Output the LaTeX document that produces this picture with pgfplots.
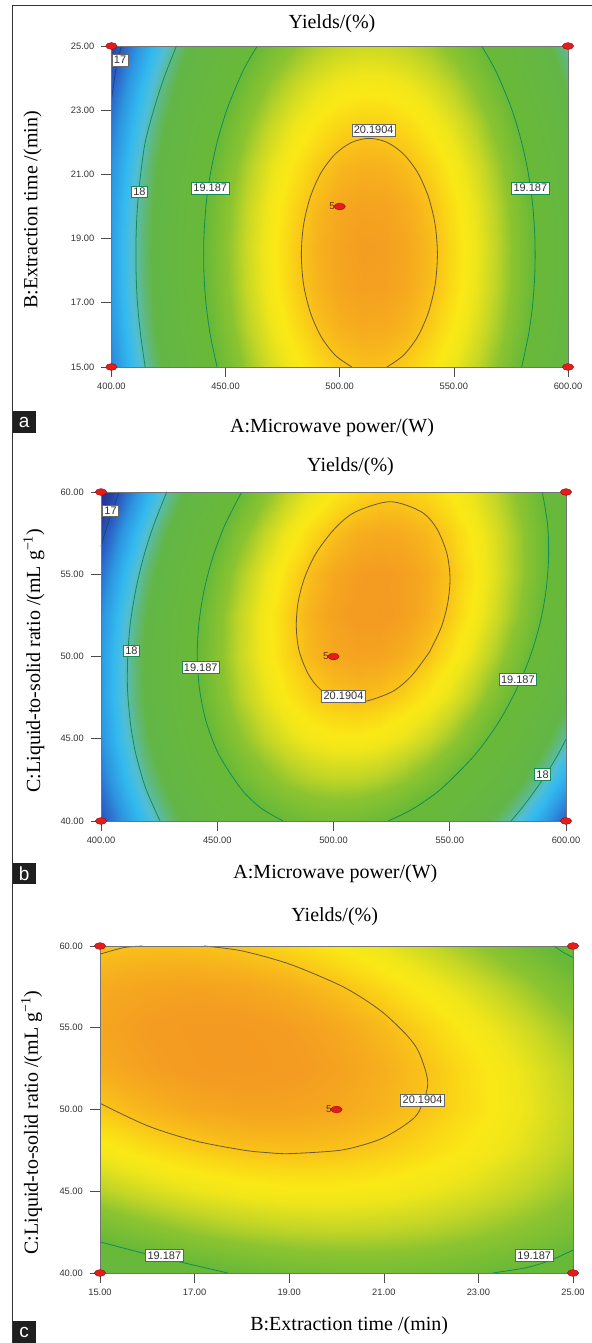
\documentclass[border=0pt]{standalone}
\usepackage{fontspec}
\setmainfont{Liberation Serif}
\newfontfamily\lsans{Liberation Sans}
\usepackage{pgfplots}
\pgfplotsset{compat=1.18}

\definecolor{clg}{RGB}{20,140,85}
\definecolor{clk}{RGB}{105,88,55}
\definecolor{clb}{RGB}{25,70,120}
\definecolor{dotred}{RGB}{228,28,28}
\definecolor{dotedge}{RGB}{150,10,10}
\definecolor{fivecol}{RGB}{110,40,20}

\pgfplotsset{
 colormap={yields}{
  rgb255(0pt)=(30,45,130)
  rgb255(30pt)=(38,62,160)
  rgb255(60pt)=(42,100,200)
  rgb255(90pt)=(45,150,225)
  rgb255(120pt)=(50,185,240)
  rgb255(140pt)=(80,190,215)
  rgb255(160pt)=(95,185,130)
  rgb255(180pt)=(98,182,70)
  rgb255(270pt)=(105,185,56)
  rgb255(300pt)=(140,196,48)
  rgb255(320pt)=(195,214,38)
  rgb255(340pt)=(240,230,26)
  rgb255(350pt)=(250,232,22)
  rgb255(360pt)=(250,215,22)
  rgb255(370pt)=(249,192,26)
  rgb255(380pt)=(246,172,30)
  rgb255(390pt)=(244,156,33)
  rgb255(400pt)=(242,148,35)
 },
 rsm/.style={
  scale only axis, anchor=south west, clip=false, axis on top,
  colormap name=yields, point meta min=16.5, point meta max=20.5,
  tick align=outside, major tick length=10bp,
  xtick pos=left, ytick pos=left,
  tick style={draw=black!70, line width=0.6bp},
  axis line style={draw=black!55, line width=0.5bp},
  ticklabel style={font=\lsans\fontsize{9.3bp}{10bp}\selectfont, text=black!80},
  /pgf/number format/fixed, /pgf/number format/fixed zerofill,
  /pgf/number format/precision=2, /pgf/number format/assume math mode=true,
  yticklabel style={anchor=east, inner sep=0pt, xshift=-7bp},
  xticklabel style={anchor=north, inner sep=0pt, yshift=-5.7bp},
 },
 cl/.style={draw=clg, line width=0.8bp, smooth, no markers},
 ck/.style={draw=clk, line width=0.8bp, smooth, no markers},
 cb/.style={draw=clb, line width=0.8bp, smooth, no markers},
 dots/.style={only marks, mark=*, mark size=3.4bp,
   mark options={xscale=1.65, fill=dotred, draw=dotedge, line width=0.4bp}},
}
\tikzset{
 lbl/.style={draw=#1, fill=white, font=\lsans\fontsize{11bp}{12bp}\selectfont,
   text=black!80, inner xsep=2bp, inner ysep=2bp, line width=0.6bp},
 ttl/.style={font=\fontsize{20bp}{24bp}\selectfont, anchor=base, inner sep=0pt},
 ylab/.style={font=\fontsize{20bp}{24bp}\selectfont, anchor=center, inner sep=0pt, rotate=90},
 five/.style={font=\lsans\fontsize{10bp}{11bp}\selectfont, text=fivecol, anchor=east, inner sep=0pt, xshift=-4.5bp},
 tag/.style={text=white, font=\lsans\fontsize{19bp}{20bp}\selectfont, inner sep=0pt, anchor=center},
}

\begin{document}
\begin{tikzpicture}
\path[use as bounding box] (0bp,0bp) rectangle (592bp,1343bp);
\draw[black!80, line width=1bp] (12.7bp,0bp) -- (12.7bp,1337bp) -- (592bp,1337bp);

% ---------------- panel a ----------------
\begin{axis}[rsm, at={(111.4bp,976bp)}, width=456.6bp, height=321bp,
  xmin=400, xmax=600, ymin=15, ymax=25,
  xtick={400,450,500,550,600}, ytick={15,17,19,21,23,25}]
\addplot[surf, shader=interp, mesh/cols=21, point meta=explicit]
 table[x=x, y=y, meta=z, row sep=\\] {x y z\\
400 15 17.283\\ 410 15 17.777\\ 420 15 18.225\\ 430 15 18.628\\ 440 15 18.985\\ 450 15 19.296\\ 460 15 19.561\\ 470 15 19.781\\ 480 15 19.954\\ 490 15 20.083\\ 500 15 20.165\\ 510 15 20.202\\ 520 15 20.193\\ 530 15 20.138\\ 540 15 20.037\\ 550 15 19.891\\ 560 15 19.699\\ 570 15 19.461\\ 580 15 19.177\\ 590 15 18.848\\ 600 15 18.473\\
400 16.25 17.394\\ 410 16.25 17.888\\ 420 16.25 18.336\\ 430 16.25 18.739\\ 440 16.25 19.096\\ 450 16.25 19.407\\ 460 16.25 19.672\\ 470 16.25 19.892\\ 480 16.25 20.065\\ 490 16.25 20.194\\ 500 16.25 20.276\\ 510 16.25 20.313\\ 520 16.25 20.304\\ 530 16.25 20.249\\ 540 16.25 20.148\\ 550 16.25 20.002\\ 560 16.25 19.810\\ 570 16.25 19.572\\ 580 16.25 19.288\\ 590 16.25 18.959\\ 600 16.25 18.584\\
400 17.5 17.457\\ 410 17.5 17.951\\ 420 17.5 18.399\\ 430 17.5 18.802\\ 440 17.5 19.159\\ 450 17.5 19.470\\ 460 17.5 19.735\\ 470 17.5 19.955\\ 480 17.5 20.128\\ 490 17.5 20.257\\ 500 17.5 20.339\\ 510 17.5 20.376\\ 520 17.5 20.367\\ 530 17.5 20.312\\ 540 17.5 20.211\\ 550 17.5 20.065\\ 560 17.5 19.873\\ 570 17.5 19.635\\ 580 17.5 19.351\\ 590 17.5 19.022\\ 600 17.5 18.647\\
400 18.75 17.472\\ 410 18.75 17.966\\ 420 18.75 18.414\\ 430 18.75 18.817\\ 440 18.75 19.174\\ 450 18.75 19.485\\ 460 18.75 19.750\\ 470 18.75 19.970\\ 480 18.75 20.143\\ 490 18.75 20.272\\ 500 18.75 20.354\\ 510 18.75 20.391\\ 520 18.75 20.382\\ 530 18.75 20.327\\ 540 18.75 20.226\\ 550 18.75 20.080\\ 560 18.75 19.888\\ 570 18.75 19.650\\ 580 18.75 19.366\\ 590 18.75 19.037\\ 600 18.75 18.662\\
400 20 17.438\\ 410 20 17.932\\ 420 20 18.380\\ 430 20 18.783\\ 440 20 19.140\\ 450 20 19.451\\ 460 20 19.716\\ 470 20 19.936\\ 480 20 20.109\\ 490 20 20.238\\ 500 20 20.320\\ 510 20 20.357\\ 520 20 20.348\\ 530 20 20.293\\ 540 20 20.192\\ 550 20 20.046\\ 560 20 19.854\\ 570 20 19.616\\ 580 20 19.332\\ 590 20 19.003\\ 600 20 18.628\\
400 21.25 17.356\\ 410 21.25 17.850\\ 420 21.25 18.298\\ 430 21.25 18.701\\ 440 21.25 19.058\\ 450 21.25 19.369\\ 460 21.25 19.634\\ 470 21.25 19.854\\ 480 21.25 20.027\\ 490 21.25 20.156\\ 500 21.25 20.238\\ 510 21.25 20.275\\ 520 21.25 20.266\\ 530 21.25 20.211\\ 540 21.25 20.110\\ 550 21.25 19.964\\ 560 21.25 19.772\\ 570 21.25 19.534\\ 580 21.25 19.250\\ 590 21.25 18.921\\ 600 21.25 18.546\\
400 22.5 17.225\\ 410 22.5 17.719\\ 420 22.5 18.167\\ 430 22.5 18.570\\ 440 22.5 18.927\\ 450 22.5 19.238\\ 460 22.5 19.503\\ 470 22.5 19.723\\ 480 22.5 19.896\\ 490 22.5 20.025\\ 500 22.5 20.107\\ 510 22.5 20.144\\ 520 22.5 20.135\\ 530 22.5 20.080\\ 540 22.5 19.979\\ 550 22.5 19.833\\ 560 22.5 19.641\\ 570 22.5 19.403\\ 580 22.5 19.119\\ 590 22.5 18.790\\ 600 22.5 18.415\\
400 23.75 17.046\\ 410 23.75 17.540\\ 420 23.75 17.988\\ 430 23.75 18.391\\ 440 23.75 18.748\\ 450 23.75 19.059\\ 460 23.75 19.324\\ 470 23.75 19.544\\ 480 23.75 19.717\\ 490 23.75 19.846\\ 500 23.75 19.928\\ 510 23.75 19.965\\ 520 23.75 19.956\\ 530 23.75 19.901\\ 540 23.75 19.800\\ 550 23.75 19.654\\ 560 23.75 19.462\\ 570 23.75 19.224\\ 580 23.75 18.940\\ 590 23.75 18.611\\ 600 23.75 18.236\\
400 25 16.819\\ 410 25 17.313\\ 420 25 17.761\\ 430 25 18.164\\ 440 25 18.521\\ 450 25 18.832\\ 460 25 19.097\\ 470 25 19.317\\ 480 25 19.490\\ 490 25 19.619\\ 500 25 19.701\\ 510 25 19.738\\ 520 25 19.729\\ 530 25 19.674\\ 540 25 19.573\\ 550 25 19.427\\ 560 25 19.235\\ 570 25 18.997\\ 580 25 18.713\\ 590 25 18.384\\ 600 25 18.009\\
};
\addplot[ck] coordinates {(520.7,15) (527.9,15.363) (534.1,15.939) (538.8,16.689) (541.8,17.563) (542.8,18.5) (541.8,19.437) (538.8,20.311) (534.1,21.061) (527.9,21.637) (520.7,21.999) (513,22.122) (505.3,21.999) (498.1,21.637) (491.9,21.061) (487.2,20.311) (484.2,19.437) (483.2,18.5) (484.2,17.563) (487.2,16.689) (491.9,15.939) (498.1,15.363) (505.3,15)};
\addplot[cl] coordinates {(446.3,15) (443.3,16) (441.4,17) (440.5,18) (440.5,19) (441.4,20) (443.3,21) (446.3,22) (450.5,23) (456.2,24) (459.7,24.5) (463.9,25)};
\addplot[cl] coordinates {(579.7,15) (582.7,16) (584.6,17) (585.5,18) (585.5,19) (584.6,20) (582.7,21) (579.7,22) (575.5,23) (569.8,24) (566.3,24.5) (562.2,25)};
\addplot[cl] coordinates {(414.8,15) (412.8,16) (411.4,17) (410.8,18) (410.8,19) (411.4,20) (412.8,21) (414.8,22) (418.5,23) (423,24) (428.5,25)};
\addplot[cb] coordinates {(400,23.3) (401.8,24.2) (404.3,25)};
\node[lbl=black!60] at (axis cs:403.8,24.56) {17};
\node[lbl=clg] at (axis cs:412.3,20.46) {18};
\node[lbl=clg] at (axis cs:443.3,20.57) {19.187};
\node[lbl=clg] at (axis cs:583.5,20.57) {19.187};
\node[lbl=black!60] at (axis cs:514.9,22.38) {20.1904};
\addplot[dots] coordinates {(400,15) (400,25) (600,15) (600,25) (500,20)};
\node[five] at (axis cs:500,20) {5};
\end{axis}
\node[ttl] at (332bp,1314.1bp) {Yields/(\%)};
\node[ttl] at (332bp,910.3bp) {A:Microwave power/(W)};
\node[ylab] at (32.5bp,1133bp) {B:Extraction time /(min)};
\fill[black!88] (12.7bp,909.7bp) rectangle (35.7bp,932.3bp);
\node[tag] at (24.2bp,921bp) {a};

% ---------------- panel b ----------------
\begin{axis}[rsm, at={(101bp,522bp)}, width=465bp, height=329bp,
  xmin=400, xmax=600, ymin=40, ymax=60,
  xtick={400,450,500,550,600}, ytick={40,45,50,55,60}]
\addplot[surf, shader=interp, mesh/cols=21, point meta=explicit]
 table[x=x, y=y, meta=z, row sep=\\] {x y z\\
400 40 16.976\\ 410 40 17.415\\ 420 40 17.807\\ 430 40 18.155\\ 440 40 18.456\\ 450 40 18.712\\ 460 40 18.922\\ 470 40 19.086\\ 480 40 19.204\\ 490 40 19.277\\ 500 40 19.304\\ 510 40 19.286\\ 520 40 19.221\\ 530 40 19.111\\ 540 40 18.954\\ 550 40 18.753\\ 560 40 18.506\\ 570 40 18.212\\ 580 40 17.873\\ 590 40 17.488\\ 600 40 17.058\\
400 42.5 17.217\\ 410 42.5 17.669\\ 420 42.5 18.075\\ 430 42.5 18.437\\ 440 42.5 18.752\\ 450 42.5 19.022\\ 460 42.5 19.245\\ 470 42.5 19.424\\ 480 42.5 19.555\\ 490 42.5 19.643\\ 500 42.5 19.683\\ 510 42.5 19.678\\ 520 42.5 19.628\\ 530 42.5 19.531\\ 540 42.5 19.389\\ 550 42.5 19.201\\ 560 42.5 18.968\\ 570 42.5 18.688\\ 580 42.5 18.363\\ 590 42.5 17.992\\ 600 42.5 17.576\\
400 45 17.374\\ 410 45 17.840\\ 420 45 18.261\\ 430 45 18.636\\ 440 45 18.965\\ 450 45 19.249\\ 460 45 19.486\\ 470 45 19.678\\ 480 45 19.823\\ 490 45 19.925\\ 500 45 19.979\\ 510 45 19.988\\ 520 45 19.952\\ 530 45 19.869\\ 540 45 19.740\\ 550 45 19.567\\ 560 45 19.347\\ 570 45 19.081\\ 580 45 18.769\\ 590 45 18.413\\ 600 45 18.010\\
400 47.5 17.448\\ 410 47.5 17.928\\ 420 47.5 18.362\\ 430 47.5 18.751\\ 440 47.5 19.094\\ 450 47.5 19.391\\ 460 47.5 19.642\\ 470 47.5 19.849\\ 480 47.5 20.008\\ 490 47.5 20.123\\ 500 47.5 20.191\\ 510 47.5 20.214\\ 520 47.5 20.191\\ 530 47.5 20.122\\ 540 47.5 20.008\\ 550 47.5 19.848\\ 560 47.5 19.642\\ 570 47.5 19.390\\ 580 47.5 19.092\\ 590 47.5 18.749\\ 600 47.5 18.361\\
400 50 17.438\\ 410 50 17.932\\ 420 50 18.380\\ 430 50 18.783\\ 440 50 19.140\\ 450 50 19.451\\ 460 50 19.716\\ 470 50 19.936\\ 480 50 20.109\\ 490 50 20.238\\ 500 50 20.320\\ 510 50 20.357\\ 520 50 20.348\\ 530 50 20.293\\ 540 50 20.192\\ 550 50 20.046\\ 560 50 19.854\\ 570 50 19.616\\ 580 50 19.332\\ 590 50 19.003\\ 600 50 18.628\\
400 52.5 17.345\\ 410 52.5 17.852\\ 420 52.5 18.314\\ 430 52.5 18.731\\ 440 52.5 19.102\\ 450 52.5 19.427\\ 460 52.5 19.706\\ 470 52.5 19.940\\ 480 52.5 20.126\\ 490 52.5 20.269\\ 500 52.5 20.365\\ 510 52.5 20.416\\ 520 52.5 20.421\\ 530 52.5 20.380\\ 540 52.5 20.292\\ 550 52.5 20.160\\ 560 52.5 19.982\\ 570 52.5 19.758\\ 580 52.5 19.488\\ 590 52.5 19.173\\ 600 52.5 18.812\\
400 55 17.167\\ 410 55 17.689\\ 420 55 18.164\\ 430 55 18.595\\ 440 55 18.980\\ 450 55 19.319\\ 460 55 19.611\\ 470 55 19.859\\ 480 55 20.060\\ 490 55 20.216\\ 500 55 20.326\\ 510 55 20.391\\ 520 55 20.409\\ 530 55 20.382\\ 540 55 20.309\\ 550 55 20.191\\ 560 55 20.026\\ 570 55 19.816\\ 580 55 19.560\\ 590 55 19.258\\ 600 55 18.911\\
400 57.5 16.907\\ 410 57.5 17.442\\ 420 57.5 17.932\\ 430 57.5 18.376\\ 440 57.5 18.775\\ 450 57.5 19.127\\ 460 57.5 19.434\\ 470 57.5 19.695\\ 480 57.5 19.910\\ 490 57.5 20.080\\ 500 57.5 20.204\\ 510 57.5 20.283\\ 520 57.5 20.315\\ 530 57.5 20.302\\ 540 57.5 20.242\\ 550 57.5 20.138\\ 560 57.5 19.987\\ 570 57.5 19.791\\ 580 57.5 19.548\\ 590 57.5 19.261\\ 600 57.5 18.928\\
400 60 16.562\\ 410 60 17.111\\ 420 60 17.615\\ 430 60 18.073\\ 440 60 18.486\\ 450 60 18.852\\ 460 60 19.172\\ 470 60 19.448\\ 480 60 19.676\\ 490 60 19.861\\ 500 60 19.998\\ 510 60 20.090\\ 520 60 20.137\\ 530 60 20.137\\ 540 60 20.092\\ 550 60 20.001\\ 560 60 19.864\\ 570 60 19.682\\ 580 60 19.453\\ 590 60 19.180\\ 600 60 18.860\\
};
\addplot[ck] coordinates {(541.4,50.30) (546.4,51.80) (549.2,53.30) (550.1,54.80) (548.7,56.30) (544.3,57.80) (537.7,58.80) (524.4,59.41) (509.6,58.80) (500.7,57.80) (492.6,56.30) (487.6,54.80) (484.8,53.30) (484.0,51.80) (485.3,50.30) (489.7,48.80) (496.3,47.80) (509.6,47.19) (524.4,47.80) (533.4,48.80) (541.4,50.30)};
\addplot[cl] coordinates {(478.3,40) (471.9,40.5) (466.9,41) (460.0,42) (450.8,44) (445.3,46) (442.4,48) (441.4,50) (442.1,52) (444.3,54) (448.0,56) (453.3,58) (460.5,60)};
\addplot[cl] coordinates {(523.5,40) (531.1,40.5) (537.1,41) (546.7,42) (560.7,44) (571.0,46) (578.7,48) (584.6,50) (588.8,52) (591.4,54) (592.5,56) (592.1,58) (589.8,60)};
\addplot[cl] coordinates {(425.4,40) (419.2,42) (415.1,44) (413.7,45) (412.6,46) (411.4,48) (411.5,50) (412.6,52) (414.9,54) (418.2,56) (422.7,58) (428.3,60)};
\addplot[cl] coordinates {(576.4,40) (582.2,41) (587.4,42) (592.1,43) (596.4,44) (600,44.97)};
\addplot[cb] coordinates {(400,56.69) (400.6,57) (402.8,58) (405.2,59) (407.9,60)};
\node[lbl=black!60] at (axis cs:404.1,58.86) {17};
\node[lbl=clg] at (axis cs:413.1,50.35) {18};
\node[lbl=clg] at (axis cs:442.9,49.34) {19.187};
\node[lbl=black!60] at (axis cs:504.3,47.6) {20.1904};
\node[lbl=clg] at (axis cs:579.3,48.61) {19.187};
\node[lbl=clg] at (axis cs:589.9,42.84) {18};
\addplot[dots] coordinates {(400,40) (400,60) (600,40) (600,60) (500,50)};
\node[five] at (axis cs:500,50) {5};
\end{axis}
\node[ttl] at (350.5bp,871.3bp) {Yields/(\%)};
\node[ttl] at (335.4bp,464bp) {A:Microwave power/(W)};
\node[ylab] at (34bp,682.2bp) {C:Liquid-to-solid ratio /(mL g\textsuperscript{−1})};
\fill[black!88] (12.7bp,459bp) rectangle (35.7bp,480bp);
\node[tag] at (24.2bp,469.5bp) {b};

% ---------------- panel c ----------------
\begin{axis}[rsm, at={(100bp,70bp)}, width=473bp, height=327bp,
  xmin=15, xmax=25, ymin=40, ymax=60,
  xtick={15,17,19,21,23,25}, ytick={40,45,50,55,60}]
\addplot[surf, shader=interp, mesh/cols=11, point meta=explicit]
 table[x=x, y=y, meta=z, row sep=\\] {x y z\\
15 40 18.809\\ 16 40 18.970\\ 17 40 19.100\\ 18 40 19.199\\ 19 40 19.267\\ 20 40 19.304\\ 21 40 19.310\\ 22 40 19.285\\ 23 40 19.229\\ 24 40 19.143\\ 25 40 19.025\\
15 42.5 19.273\\ 16 42.5 19.417\\ 17 42.5 19.530\\ 18 42.5 19.612\\ 19 42.5 19.663\\ 20 42.5 19.683\\ 21 42.5 19.672\\ 22 42.5 19.630\\ 23 42.5 19.557\\ 24 42.5 19.454\\ 25 42.5 19.319\\
15 45 19.654\\ 16 45 19.781\\ 17 45 19.877\\ 18 45 19.942\\ 19 45 19.976\\ 20 45 19.979\\ 21 45 19.951\\ 22 45 19.892\\ 23 45 19.802\\ 24 45 19.682\\ 25 45 19.530\\
15 47.5 19.951\\ 16 47.5 20.061\\ 17 47.5 20.140\\ 18 47.5 20.188\\ 19 47.5 20.205\\ 20 47.5 20.191\\ 21 47.5 20.146\\ 22 47.5 20.070\\ 23 47.5 19.963\\ 24 47.5 19.826\\ 25 47.5 19.657\\
15 50 20.165\\ 16 50 20.258\\ 17 50 20.320\\ 18 50 20.351\\ 19 50 20.351\\ 20 50 20.320\\ 21 50 20.258\\ 22 50 20.165\\ 23 50 20.041\\ 24 50 19.887\\ 25 50 19.701\\
15 52.5 20.295\\ 16 52.5 20.371\\ 17 52.5 20.416\\ 18 52.5 20.430\\ 19 52.5 20.413\\ 20 52.5 20.365\\ 21 52.5 20.286\\ 22 52.5 20.176\\ 23 52.5 20.035\\ 24 52.5 19.864\\ 25 52.5 19.661\\
15 55 20.341\\ 16 55 20.400\\ 17 55 20.428\\ 18 55 20.425\\ 19 55 20.391\\ 20 55 20.326\\ 21 55 20.230\\ 22 55 20.103\\ 23 55 19.945\\ 24 55 19.757\\ 25 55 19.537\\
15 57.5 20.304\\ 16 57.5 20.346\\ 17 57.5 20.357\\ 18 57.5 20.337\\ 19 57.5 20.286\\ 20 57.5 20.204\\ 21 57.5 20.091\\ 22 57.5 19.947\\ 23 57.5 19.772\\ 24 57.5 19.567\\ 25 57.5 19.330\\
15 60 20.183\\ 16 60 20.208\\ 17 60 20.202\\ 18 60 20.165\\ 19 60 20.097\\ 20 60 19.998\\ 21 60 19.868\\ 22 60 19.707\\ 23 60 19.515\\ 24 60 19.293\\ 25 60 19.039\\
};
\addplot[ck] coordinates {(15,59.5) (15.5,59.9) (15.9,60)};
\addplot[ck] coordinates {(17.2,60) (18,59.70) (19,58.90) (20,57.70) (20.5,56.90) (21,55.89) (21.5,54.50) (21.75,53.45) (21.93,51.61) (21.75,49.91) (21.5,49.16) (21,48.28) (20.5,47.78) (20,47.48) (19,47.30) (18.5,47.37) (18,47.53) (17,48.09) (16,49.01) (15,50.38)};
\addplot[cl] coordinates {(15,41.9) (16,41.15) (17,40.47) (17.7,40)};
\addplot[cl] coordinates {(23.3,40) (24,40.32) (24.5,40.75) (25,41.4)};
\addplot[cl] coordinates {(24.6,60) (24.8,59.6) (25,59.3)};
\node[lbl=clg] at (axis cs:16.36,41.06) {19.187};
\node[lbl=clg] at (axis cs:24.18,41.06) {19.187};
\node[lbl=black!60] at (axis cs:21.82,50.58) {20.1904};
\addplot[dots] coordinates {(15,40) (15,60) (25,40) (25,60) (20,50)};
\node[five] at (axis cs:20,50) {5};
\end{axis}
\node[ttl] at (334.7bp,421.3bp) {Yields/(\%)};
\node[ttl] at (349.2bp,12.6bp) {B:Extraction time /(min)};
\node[ylab] at (31.7bp,220.5bp) {C:Liquid-to-solid ratio /(mL g\textsuperscript{−1})};
\fill[black!88] (12.7bp,0bp) rectangle (35.7bp,22bp);
\node[tag] at (24.2bp,11bp) {c};
\end{tikzpicture}
\end{document}
